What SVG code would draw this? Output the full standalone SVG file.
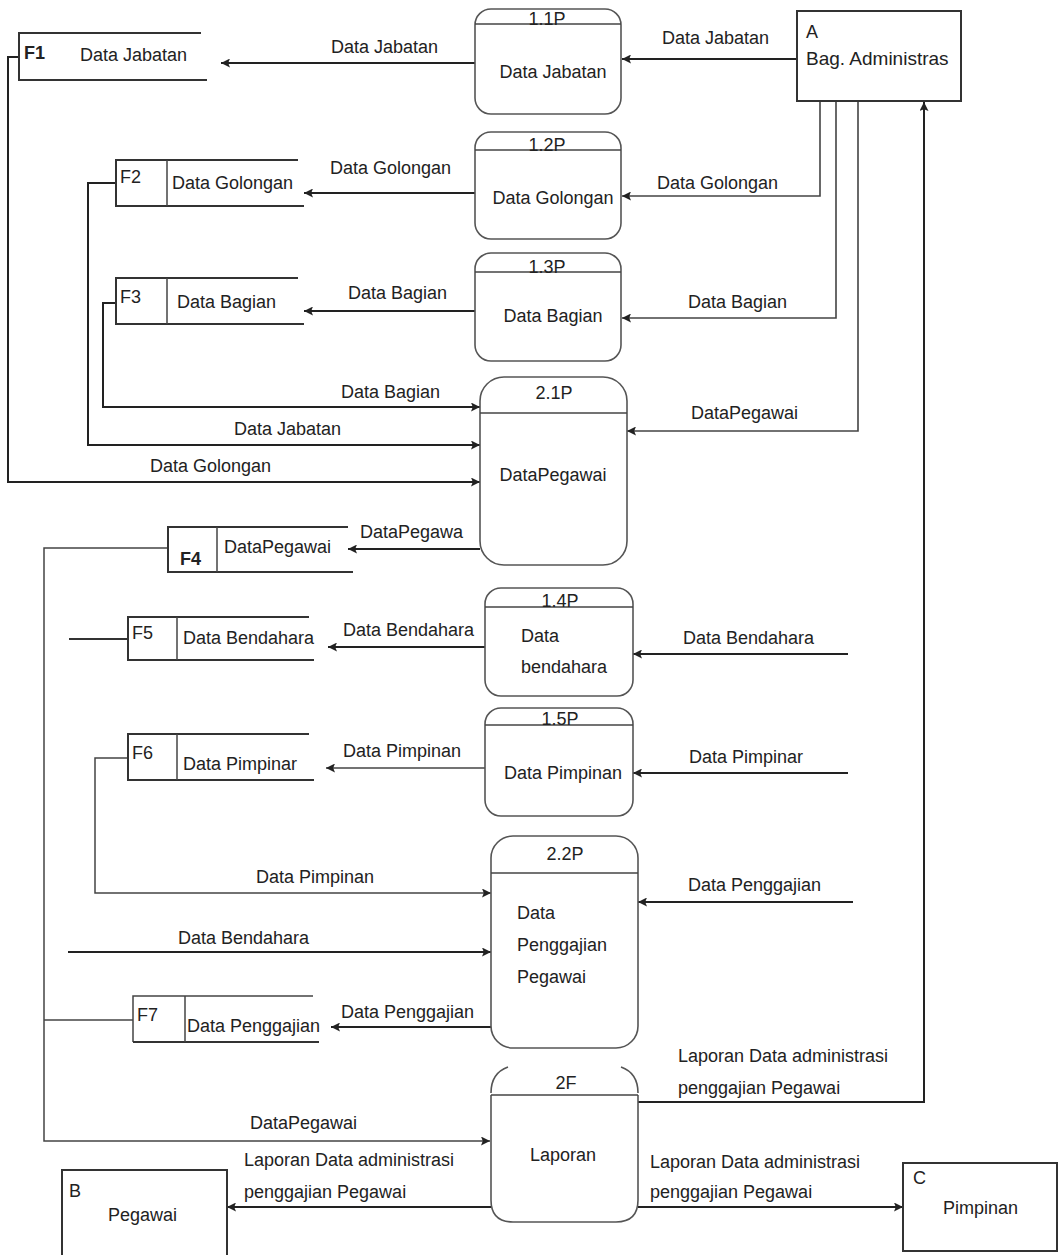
<svg xmlns="http://www.w3.org/2000/svg" width="1059" height="1255" viewBox="0 0 1059 1255">
<defs>
<style>
.t{font-family:"Liberation Sans",Arial,sans-serif;font-size:18px;fill:#222}
.c{text-anchor:middle}
.b{font-weight:bold}
.fl{stroke:#222;stroke-width:2;fill:none}
.fa{stroke:#444;stroke-width:1.6;fill:none}
.st{stroke:#333;stroke-width:2;fill:none}
.sd{stroke:#444;stroke-width:1.5;fill:none}
.pr{stroke:#555;stroke-width:1.6;fill:#fff}
.hd{stroke:#444;stroke-width:1.6}
.en{stroke:#333;stroke-width:2;fill:#fff}
</style>
<marker id="ah" viewBox="0 0 10 10" refX="10" refY="5" markerWidth="11" markerHeight="9" markerUnits="userSpaceOnUse" orient="auto"><path d="M0,0 L10,5 L0,10 L2,5 z" fill="#222"/></marker>
</defs>
<rect width="1059" height="1255" fill="#fff"/>

<g id="connectors">
<path class="fl" d="M797,59 H622" marker-end="url(#ah)"/>
<text class="t" x="662" y="44">Data Jabatan</text>
<path class="fl" d="M475,63 H221" marker-end="url(#ah)"/>
<text class="t" x="331" y="53">Data Jabatan</text>
<path class="fa" d="M820,101 V196 H622" marker-end="url(#ah)"/>
<text class="t" x="657" y="189">Data Golongan</text>
<path class="fl" d="M475,193 H304" marker-end="url(#ah)"/>
<text class="t" x="330" y="174">Data Golongan</text>
<path class="fa" d="M836,101 V318 H622" marker-end="url(#ah)"/>
<text class="t" x="688" y="308">Data Bagian</text>
<path class="fl" d="M475,311 H304" marker-end="url(#ah)"/>
<text class="t" x="348" y="299">Data Bagian</text>
<path class="fa" d="M858,101 V431 H627" marker-end="url(#ah)"/>
<text class="t" x="691" y="419">DataPegawai</text>
<path class="fl" d="M116,303 H103 V407 H480" marker-end="url(#ah)"/>
<text class="t" x="341" y="398">Data Bagian</text>
<path class="fl" d="M116,183 H88 V445 H480" marker-end="url(#ah)"/>
<text class="t" x="234" y="435">Data Jabatan</text>
<path class="fl" d="M19,57 H8 V482 H480" marker-end="url(#ah)"/>
<text class="t" x="150" y="472">Data Golongan</text>
<path class="fl" d="M480,549 H348" marker-end="url(#ah)"/>
<text class="t" x="360" y="538">DataPegawa</text>
<path class="sd" d="M168,548 H44 V1141 H490" marker-end="url(#ah)"/>
<text class="t" x="250" y="1129">DataPegawai</text>
<path class="sd" d="M133,1020 H44"/>
<path class="fl" d="M485,647 H328" marker-end="url(#ah)"/>
<text class="t" x="343" y="636">Data Bendahara</text>
<path class="fl" d="M848,654 H633" marker-end="url(#ah)"/>
<text class="t" x="683" y="644">Data Bendahara</text>
<path class="st" d="M128,639 H69"/>
<path class="sd" d="M485,768 H326" marker-end="url(#ah)"/>
<text class="t" x="343" y="757">Data Pimpinan</text>
<path class="fl" d="M848,773 H633" marker-end="url(#ah)"/>
<text class="t" x="689" y="763">Data Pimpinar</text>
<path class="sd" d="M128,758 H95 V893 H491" marker-end="url(#ah)"/>
<text class="t" x="256" y="883">Data Pimpinan</text>
<path class="fl" d="M853,902 H638" marker-end="url(#ah)"/>
<text class="t" x="688" y="891">Data Penggajian</text>
<path class="fl" d="M68,952 H491" marker-end="url(#ah)"/>
<text class="t" x="178" y="944">Data Bendahara</text>
<path class="fl" d="M493,1027 H331" marker-end="url(#ah)"/>
<text class="t" x="341" y="1018">Data Penggajian</text>
<path class="fl" d="M638,1102 H924 V102" marker-end="url(#ah)"/>
<text class="t" x="678" y="1062">Laporan Data administrasi</text>
<text class="t" x="678" y="1094">penggajian Pegawai</text>
<path class="fl" d="M638,1207 H903" marker-end="url(#ah)"/>
<text class="t" x="650" y="1168">Laporan Data administrasi</text>
<text class="t" x="650" y="1198">penggajian Pegawai</text>
<path class="fl" d="M491,1207 H227" marker-end="url(#ah)"/>
<text class="t" x="244" y="1166">Laporan Data administrasi</text>
<text class="t" x="244" y="1198">penggajian Pegawai</text>
</g>

<g id="A">
<rect class="en" x="797" y="11" width="164" height="90"/>
<text class="t" x="806" y="38">A</text>
<text class="t" x="806" y="65" style="font-size:19px">Bag. Administras</text>
</g>
<g id="B">
<rect class="en" x="62" y="1170" width="165" height="95"/>
<text class="t" x="69" y="1197">B</text>
<text class="t" x="108" y="1221">Pegawai</text>
</g>
<g id="C">
<rect class="en" x="903" y="1163" width="154" height="88"/>
<text class="t" x="913" y="1184">C</text>
<text class="t" x="943" y="1214">Pimpinan</text>
</g>

<g id="P1.1">
<rect class="pr" x="475" y="9" width="146" height="105" rx="16"/>
<line class="hd" x1="475" y1="24" x2="621" y2="24"/>
<text class="t c" x="547" y="25">1.1P</text>
<text class="t c" x="553" y="78">Data Jabatan</text>
</g>
<g id="P1.2">
<rect class="pr" x="475" y="132" width="146" height="107" rx="16"/>
<line class="hd" x1="475" y1="150" x2="621" y2="150"/>
<text class="t c" x="547" y="151">1.2P</text>
<text class="t c" x="553" y="204">Data Golongan</text>
</g>
<g id="P1.3">
<rect class="pr" x="475" y="253" width="146" height="108" rx="16"/>
<line class="hd" x1="475" y1="272" x2="621" y2="272"/>
<text class="t c" x="547" y="273">1.3P</text>
<text class="t c" x="553" y="322">Data Bagian</text>
</g>
<g id="P2.1">
<rect class="pr" x="480" y="377" width="147" height="188" rx="24"/>
<line class="hd" x1="480" y1="413" x2="627" y2="413"/>
<text class="t c" x="554" y="399">2.1P</text>
<text class="t c" x="553" y="481">DataPegawai</text>
</g>
<g id="P1.4">
<rect class="pr" x="485" y="588" width="148" height="108" rx="16"/>
<line class="hd" x1="485" y1="607" x2="633" y2="607"/>
<text class="t c" x="560" y="607">1.4P</text>
<text class="t" x="521" y="642">Data</text>
<text class="t" x="521" y="673">bendahara</text>
</g>
<g id="P1.5">
<rect class="pr" x="485" y="708" width="148" height="108" rx="16"/>
<line class="hd" x1="485" y1="725" x2="633" y2="725"/>
<text class="t c" x="560" y="725">1.5P</text>
<text class="t c" x="563" y="779">Data Pimpinan</text>
</g>
<g id="P2.2">
<rect class="pr" x="491" y="836" width="147" height="212" rx="22"/>
<line class="hd" x1="491" y1="873" x2="638" y2="873"/>
<text class="t c" x="565" y="860">2.2P</text>
<text class="t" x="517" y="919">Data</text>
<text class="t" x="517" y="951">Penggajian</text>
<text class="t" x="517" y="983">Pegawai</text>
</g>
<g id="P2">
<path class="pr" d="M491,1095 V1200 Q491,1222 513,1222 H616 Q638,1222 638,1200 V1095"/>
<path class="pr" d="M491,1093 Q491,1073 508,1067 M638,1093 Q638,1073 621,1067" fill="none"/>
<line class="hd" x1="491" y1="1095" x2="638" y2="1095"/>
<text class="t c" x="566" y="1089">2F</text>
<text class="t c" x="563" y="1161">Laporan</text>
</g>

<g id="F1">
<path class="st" d="M201,33 H19 V80 H207"/>
<text class="t b" x="24" y="59">F1</text>
<text class="t" x="80" y="61">Data Jabatan</text>
</g>
<g id="F2">
<path class="st" d="M298,160 H116 V206 H304"/>
<line class="sd" x1="167" y1="160" x2="167" y2="206"/>
<text class="t" x="120" y="183">F2</text>
<text class="t" x="172" y="189">Data Golongan</text>
</g>
<g id="F3">
<path class="st" d="M298,278 H116 V324 H304"/>
<line class="sd" x1="167" y1="278" x2="167" y2="324"/>
<text class="t" x="120" y="303">F3</text>
<text class="t" x="177" y="308">Data Bagian</text>
</g>
<g id="F4">
<path class="st" d="M348,527 H168 V572 H353"/>
<line class="sd" x1="217" y1="527" x2="217" y2="572"/>
<text class="t b" x="180" y="565">F4</text>
<text class="t" x="224" y="553">DataPegawai</text>
</g>
<g id="F5">
<path class="st" d="M309,617 H128 V660 H314"/>
<line class="sd" x1="177" y1="617" x2="177" y2="660"/>
<text class="t" x="132" y="639">F5</text>
<text class="t" x="183" y="644">Data Bendahara</text>
</g>
<g id="F6">
<path class="st" d="M309,734 H128 V780 H314"/>
<line class="sd" x1="177" y1="734" x2="177" y2="780"/>
<text class="t" x="132" y="759">F6</text>
<text class="t" x="183" y="770">Data Pimpinar</text>
</g>
<g id="F7">
<path class="sd" d="M313,996 H133 V1042"/>
<path class="st" d="M133,1042 H319"/>
<line class="sd" x1="185" y1="996" x2="185" y2="1042"/>
<text class="t" x="137" y="1021">F7</text>
<text class="t" x="187" y="1032">Data Penggajian</text>
</g>
</svg>
